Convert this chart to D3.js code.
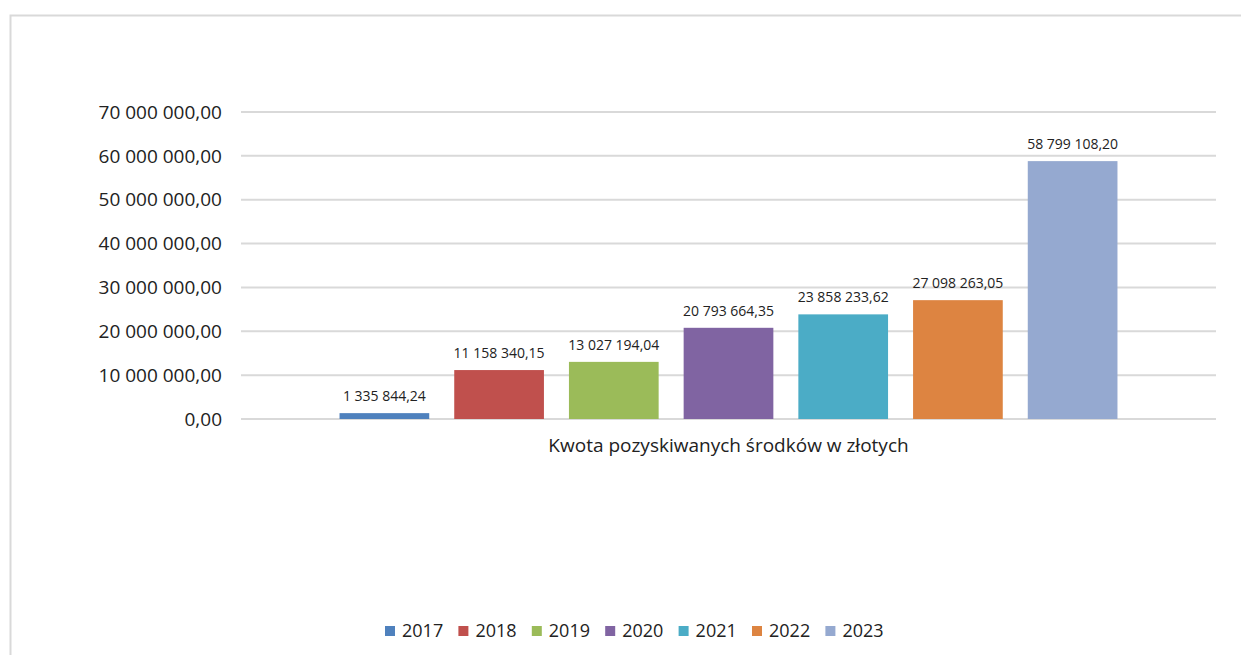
<!DOCTYPE html>
<meta charset="utf-8">
<html>
  <style>
    body { margin: 0; background: #fff; }
    text { font-family: "Open Sans", sans-serif; fill: #333; }
    .grid line { stroke: #d9d9d9; stroke-width: 2px; }
  </style>
  <head>
    <script src="https://d3js.org/d3.v7.min.js"></script>
  </head>
  <body>
    <script>
      // data
      var years = ["2017", "2018", "2019", "2020", "2021", "2022", "2023"];
      var amounts = [1335844.24, 11158340.15, 13027194.04, 20793664.35, 23858233.62, 27098263.05, 58799108.20];
      var amountLabels = ["1 335 844,24", "11 158 340,15", "13 027 194,04", "20 793 664,35", "23 858 233,62", "27 098 263,05", "58 799 108,20"];
      var yTicks = [0, 10000000, 20000000, 30000000, 40000000, 50000000, 60000000, 70000000];
      var yTickLabels = ["0,00", "10 000 000,00", "20 000 000,00", "30 000 000,00", "40 000 000,00", "50 000 000,00", "60 000 000,00", "70 000 000,00"];
      var colors = ["#4f81bd", "#c0504d", "#9bbb59", "#8064a2", "#4bacc6", "#dd8441", "#95a9d0"];
      var categoryLabel = "Kwota pozyskiwanych środków w złotych";

      var width = 1241, height = 655;
      var plot = {left: 241, right: 1216, top: 112, bottom: 419};

      var svg = d3.select("body").append("svg")
          .attr("width", width)
          .attr("height", height);

      // outer chart frame
      svg.append("rect")
         .attr("x", 10.5).attr("y", 15.5)
         .attr("width", 1240).attr("height", 650)
         .attr("fill", "none")
         .attr("stroke", "#d9d9d9")
         .attr("stroke-width", 2);

      var x = d3.scaleBand().domain(years)
          .range([plot.left, plot.right])
          .paddingInner(0.218)
          .paddingOuter(0.859);
      var y = d3.scaleLinear().domain([0, 70000000]).range([plot.bottom, plot.top]);

      // gridlines
      svg.append("g").attr("class", "grid")
         .selectAll("line").data(yTicks).enter().append("line")
         .attr("x1", plot.left).attr("x2", plot.right)
         .attr("y1", function(d) { return y(d); })
         .attr("y2", function(d) { return y(d); });

      // y axis labels
      svg.append("g").selectAll("text").data(yTicks).enter().append("text")
         .attr("x", 222)
         .attr("y", function(d) { return y(d); })
         .attr("dy", "0.35em")
         .attr("text-anchor", "end")
         .style("font-size", "19px")
         .style("fill", "#222")
         .text(function(d, i) { return yTickLabels[i]; });

      // bars
      svg.append("g").selectAll("rect").data(amounts).enter().append("rect")
         .attr("x", function(d, i) { return x(years[i]); })
         .attr("y", function(d) { return y(d); })
         .attr("width", x.bandwidth())
         .attr("height", function(d) { return y(0) - y(d); })
         .attr("fill", function(d, i) { return colors[i]; });

      // data labels
      svg.append("g").selectAll("text").data(amounts).enter().append("text")
         .attr("x", function(d, i) { return x(years[i]) + x.bandwidth() / 2; })
         .attr("y", function(d) { return y(d) - 12; })
         .attr("text-anchor", "middle")
         .style("font-size", "14px")
         .style("fill", "#222")
         .text(function(d, i) { return amountLabels[i]; });

      // category label
      svg.append("text")
         .attr("x", (plot.left + plot.right) / 2)
         .attr("y", 452)
         .attr("text-anchor", "middle")
         .style("font-size", "19px")
         .style("fill", "#222")
         .text(categoryLabel);

      // legend
      var legend = svg.append("g").selectAll("g").data(years).enter().append("g")
         .attr("transform", function(d, i) { return "translate(" + (385 + i * 73.4) + ",626)"; });
      legend.append("rect")
         .attr("width", 10).attr("height", 10)
         .attr("fill", function(d, i) { return colors[i]; });
      legend.append("text")
         .attr("x", 17).attr("y", 5)
         .attr("dy", "0.35em")
         .style("font-size", "18px")
         .style("fill", "#222")
         .text(function(d) { return d; });
    </script>
  </body>
</html>
